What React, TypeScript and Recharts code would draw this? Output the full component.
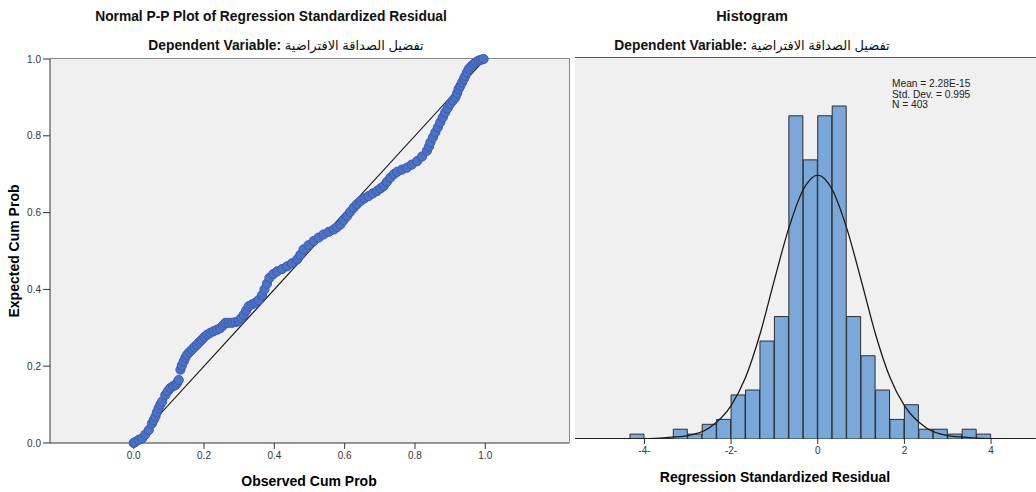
import React from 'react'
import { ScatterChart, Scatter, XAxis, YAxis, ReferenceLine, ComposedChart, Bar, Line } from 'recharts'

const FONT = '"Liberation Sans", Arial, "DejaVu Sans", sans-serif'

const observedCum = [
  0.0, 0.005, 0.014, 0.024, 0.033, 0.043, 0.052, 0.057, 0.062, 0.066, 0.071, 0.076, 0.081, 0.09, 0.097,
  0.104, 0.112, 0.119, 0.124, 0.128, 0.133, 0.137, 0.142, 0.147, 0.152, 0.159, 0.166, 0.173, 0.18, 0.187,
  0.194, 0.201, 0.209, 0.218, 0.227, 0.237, 0.246, 0.254, 0.261, 0.27, 0.28, 0.29, 0.299, 0.306, 0.313,
  0.32, 0.327, 0.337, 0.346, 0.355, 0.365, 0.372, 0.379, 0.386, 0.397, 0.408, 0.422, 0.436, 0.45, 0.465,
  0.474, 0.483, 0.497, 0.512, 0.526, 0.54, 0.555, 0.569, 0.578, 0.588, 0.597, 0.607, 0.616, 0.626, 0.635,
  0.645, 0.656, 0.668, 0.68, 0.692, 0.702, 0.711, 0.72, 0.73, 0.74, 0.749, 0.763, 0.777, 0.791, 0.806,
  0.82, 0.834, 0.84, 0.844, 0.851, 0.858, 0.865, 0.872, 0.879, 0.886, 0.893, 0.9, 0.908, 0.915, 0.92,
  0.924, 0.929, 0.934, 0.939, 0.943, 0.948, 0.953, 0.96, 0.967, 0.974, 0.981, 0.988, 0.995,
]
const expectedCum = [
  0.0, 0.003, 0.008, 0.012, 0.022, 0.034, 0.051, 0.06, 0.069, 0.08, 0.091, 0.1, 0.108, 0.125, 0.135,
  0.143, 0.148, 0.151, 0.157, 0.164, 0.191, 0.202, 0.212, 0.222, 0.23, 0.237, 0.243, 0.25, 0.256, 0.263,
  0.269, 0.276, 0.282, 0.287, 0.291, 0.295, 0.299, 0.306, 0.313, 0.313, 0.313, 0.315, 0.317, 0.325, 0.334,
  0.345, 0.356, 0.361, 0.365, 0.372, 0.385, 0.4, 0.415, 0.43, 0.44, 0.447, 0.453, 0.46, 0.468, 0.478,
  0.49, 0.504, 0.515, 0.526, 0.535, 0.543, 0.55, 0.556, 0.562, 0.569, 0.58, 0.591, 0.602, 0.613, 0.622,
  0.63, 0.637, 0.643, 0.65, 0.656, 0.663, 0.669, 0.68, 0.691, 0.7, 0.706, 0.712, 0.717, 0.725, 0.734,
  0.746, 0.761, 0.772, 0.783, 0.796, 0.809, 0.822, 0.835, 0.848, 0.861, 0.872, 0.883, 0.892, 0.9, 0.911,
  0.922, 0.93, 0.939, 0.948, 0.956, 0.965, 0.974, 0.981, 0.987, 0.992, 0.996, 0.998, 1.0,
]
const ppTicks = [0, 0.2, 0.4, 0.6, 0.8, 1.0]

// histogram bins (width 1/3), centres and frequencies
const binMids = [
  -5.5, -5.167, -4.833, -4.5, -4.167, -3.833, -3.5, -3.167, -2.833, -2.5, -2.167, -1.833, -1.5, -1.167,
  -0.833, -0.5, -0.167, 0.167, 0.5, 0.833, 1.167, 1.5, 1.833, 2.167, 2.5, 2.833, 3.167, 3.5, 3.833,
  4.167, 4.5, 4.833,
]
const binCounts = [
  0, 0, 0, 0, 1, 0, 0, 2, 1, 3, 4, 9, 10, 20, 25, 66, 57, 66, 68, 25, 17, 10, 4, 7, 2, 2, 1, 2, 1, 0, 0, 0,
]
// normal curve as traced on the picture
const curveX = [-5.6, -4.5, -4, -3.5, -3, -2.5, -2, -1.67, -1.33, -1, -0.67, -0.33, 0, 0.33, 0.67, 1, 1.33, 1.67, 2, 2.5, 3, 3.5, 4, 4.5, 5]
const curveY = [0, 0.02, 0.07, 0.3, 0.7, 2.3, 6.8, 12.5, 21.5, 32.5, 43, 51, 53.9, 51, 43, 32.5, 21.5, 12.5, 6.8, 2.3, 0.7, 0.3, 0.07, 0.02, 0]
const residTicks = [-4, -2, 0, 2, 4]

const statLines = ['Mean = 2.28E-15', 'Std. Dev. = 0.995', 'N = 403']
const depLabel = 'Dependent Variable: '
const depName = 'تفضيل الصداقة الافتراضية'

const ppData = observedCum.map((x, i) => ({ x, y: expectedCum[i] }))
const histData = binMids.map((mid, i) => ({ mid, count: binCounts[i] }))
const curveData = curveX.map((x, i) => ({ x, y: curveY[i] }))

const tickStyle = { fontSize: 10, fill: '#333', fontFamily: FONT }

const PPDot = (p: any) => (
  <circle cx={p.cx} cy={p.cy} r={4.6} fill="#4A72C6" stroke="#3A5BB0" strokeWidth={1} />
)

const SubTitle = ({ x }: { x: number }) => (
  <text x={x} y={50} textAnchor="middle" fontSize={13.8} fill="#111">
    <tspan fontWeight="bold">{depLabel}</tspan>
    <tspan fontSize={13} fontWeight="normal">{depName}</tspan>
  </text>
)

export default function App() {
  return (
    <div style={{ position: 'absolute', left: 0, top: 0, width: 1036, height: 492, background: '#fff', overflow: 'hidden', fontFamily: FONT }}>
      {/* plot backgrounds */}
      <div style={{ position: 'absolute', left: 50, top: 58, width: 520, height: 385, background: '#F0F0F0', borderTop: '1px solid #8a8a8a', borderRight: '1px solid #8a8a8a', boxSizing: 'border-box' }} />
      <div style={{ position: 'absolute', left: 575, top: 57, width: 461, height: 382, background: '#F0F0F0', borderTop: '1px solid #555', borderBottom: '1px solid #333', boxSizing: 'border-box' }} />

      <div style={{ position: 'absolute', left: 0, top: 0 }}>
        <ScatterChart width={580} height={492} margin={{ top: 59, right: 11, bottom: 19, left: 10 }}>
          <XAxis type="number" dataKey="x" domain={[-0.238, 1.238]} ticks={ppTicks} allowDataOverflow
            tickFormatter={(v: number) => v.toFixed(1)} tick={tickStyle} tickSize={6} tickMargin={3}
            height={30} stroke="#333" />
          <YAxis type="number" dataKey="y" domain={[0, 1]} ticks={ppTicks}
            tickFormatter={(v: number) => v.toFixed(1)} tick={tickStyle} tickSize={7} tickMargin={2}
            width={40} stroke="#333" />
          <Scatter data={ppData} shape={PPDot} isAnimationActive={false} />
          <ReferenceLine segment={[{ x: 0, y: 0 }, { x: 1, y: 1 }]} stroke="#111" strokeWidth={1.1} />
        </ScatterChart>
      </div>

      <div style={{ position: 'absolute', left: 560, top: 0 }}>
        <ComposedChart width={476} height={492} data={histData} barCategoryGap={0} barGap={0}
          margin={{ top: 58, right: 1.6, bottom: 23, left: 12.2 }}>
          <XAxis xAxisId="bin" type="category" dataKey="mid" hide height={0} orientation="top" />
          <XAxis xAxisId="num" type="number" dataKey="x" domain={[-5.667, 5.0]} ticks={residTicks} allowDataOverflow
            tickFormatter={(v: number) => (v < 0 ? `${v}-` : `${v}`)} tick={tickStyle}
            axisLine={false} tickLine={{ stroke: '#333' }} tickSize={5} tickMargin={3} height={30} />
          <YAxis type="number" domain={[0, 77.8]} hide allowDataOverflow />
          <Bar xAxisId="bin" dataKey="count" fill="#79A8D9" stroke="#2e2e2e" strokeWidth={1} isAnimationActive={false} />
          <Line xAxisId="num" data={curveData} dataKey="y" type="monotone" dot={false} stroke="#1a1a1a"
            strokeWidth={1.3} isAnimationActive={false} />
        </ComposedChart>
      </div>

      <svg width={1036} height={492} style={{ position: 'absolute', left: 0, top: 0, pointerEvents: 'none' }} fontFamily={FONT}>
        <text x={271} y={21} textAnchor="middle" fontSize={13.8} fontWeight="bold" fill="#111">Normal P-P Plot of Regression Standardized Residual</text>
        <SubTitle x={286} />
        <text x={752} y={21} textAnchor="middle" fontSize={14.5} fontWeight="bold" fill="#111">Histogram</text>
        <SubTitle x={752} />
        <text transform="translate(18.5,251) rotate(-90)" textAnchor="middle" fontSize={14} fontWeight="bold" fill="#000">Expected Cum Prob</text>
        <text x={309} y={486} textAnchor="middle" fontSize={14} fontWeight="bold" fill="#000">Observed Cum Prob</text>
        <text x={775} y={482} textAnchor="middle" fontSize={14} fontWeight="bold" fill="#000">Regression Standardized Residual</text>
        {statLines.map((s, i) => (
          <text key={s} x={892} y={87.3 + i * 10.3} fontSize={10.2} fill="#222">{s}</text>
        ))}
      </svg>
    </div>
  )
}
